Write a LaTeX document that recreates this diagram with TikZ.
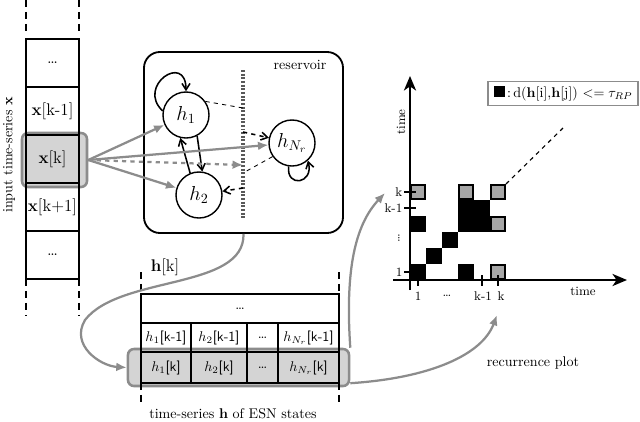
\documentclass[tikz,border=0pt]{standalone}
\usepackage{xcolor}
\definecolor{lineGray}{HTML}{8C8C8C}
\definecolor{cellGray}{HTML}{D4D4D4}
\definecolor{markGray}{HTML}{A6A6A6}
\usepackage{tikz}
\usetikzlibrary{arrows.meta,positioning,shapes.misc}
\tikzset{%
  seriesCell/.style={%
    rectangle,
    draw,
    line width=1.3pt,
    minimum width=1.325cm,
    minimum height=1.2cm,
    inner sep=0pt,
    outer sep=0pt,
    font=\large
  },
  stateCell/.style={%
    rectangle,
    draw,
    line width=1.3pt,
    minimum height=0.725cm,
    inner sep=0pt,
    outer sep=0pt
  },
  stateNode/.style={%
    circle,
    draw,
    line width=1pt,
    fill=white,
    minimum size=1.15cm,
    inner sep=0pt,
    font=\Large
  },
  grayBox/.style={%
    rectangle,
    rounded corners=0.15cm,
    draw=lineGray,
    line width=1.8pt,
    fill=cellGray,
    inner sep=0pt
  },
  grayArrow/.style={%
    -{Latex[length=2.6mm,width=2.2mm]},
    line width=1.6pt,
    color=lineGray
  },
  blackArrow/.style={%
    -{Straight Barb[length=1.6mm,width=2mm]},
    line width=1.1pt
  },
  axisArrow/.style={%
    -{Stealth[length=3.6mm,width=3mm,inset=1mm]},
    line width=1.8pt
  },
  edgeDash/.style={%
    line width=1pt,
    dash pattern=on 5pt off 3.5pt
  }
}

\begin{document}
\begin{tikzpicture}[x=0.025cm,y=-0.025cm]
  \useasboundingbox (0,0) rectangle (640,422);

  % input time-series
  \node[grayBox, minimum width=1.625cm, minimum height=1.35cm] (xkbox) at (54.5,160) {};
  \node[seriesCell] (xa) at (52.5,63) {\dots};
  \node[seriesCell, below=0pt of xa] (xb) {$\mathbf{x}$[k-1]};
  \node[seriesCell, fill=cellGray, below=0pt of xb] (xc) {$\mathbf{x}$[k]};
  \node[seriesCell, below=0pt of xc] (xd) {$\mathbf{x}$[k+1]};
  \node[seriesCell, below=0pt of xd] (xe) {\dots};
  \foreach \px in {26,79} {
    \draw[edgeDash] (\px,0) -- (\px,33);
    \draw[edgeDash] (\px,279) -- (\px,316);
  }
  \node[rotate=90] (xlabel) at (9,155) {input time-series $\mathbf{x}$};

  % reservoir
  \node[rectangle, draw, line width=1.3pt, rounded corners=0.4cm,
        minimum width=4.975cm, minimum height=4.525cm] (res) at (243.5,142.5) {};
  \node (reslabel) at (300,65) {reservoir};
  \draw[line width=2.2pt, black!65, dash pattern=on 1.4pt off 1.2pt] (243,70) -- (243,218);
  \coordinate (d1) at (243,108);
  \coordinate (d2) at (243,132);
  \coordinate (d3) at (243,173);
  \coordinate (d4) at (243,188);
  \coordinate (d5) at (243,165);

  \node[stateNode] (h1) at (186,115) {$h_1$};
  \node[stateNode] (h2) at (199,195) {$h_2$};
  \node[stateNode] (hN) at (292,143) {$h_{N_r}$};

  \draw[blackArrow] (h1.170) .. controls (136,86) and (186,52) .. (h1.north);
  \draw[blackArrow] (hN.262) .. controls (286,188) and (314,184) .. (hN.-48);
  \draw[blackArrow] (h1.-62) -- (h2.82);
  \draw[blackArrow] (h2.112) -- (h1.-104);
  \draw[dashed, line width=0.6pt] (h1.35) -- (d1);
  \draw[dashed, line width=0.6pt] (hN.215) -- (d3);
  \draw[blackArrow, dashed] (d2) -- (hN);
  \draw[blackArrow, dashed] (d4) -- (h2);

  \draw[grayArrow] (xkbox.east) -- (h1);
  \draw[grayArrow] (xkbox.east) -- (hN);
  \draw[grayArrow] (xkbox.east) -- (h2);
  \draw[grayArrow, dashed] (xkbox.east) -- (d5);

  % time-series of states
  \node[grayBox, minimum width=5.525cm, minimum height=0.925cm] (hkbox) at (238.5,367.5) {};
  \node[stateCell, minimum width=4.95cm] (ha) at (240,308.5) {\dots};
  \node[stateCell, minimum width=1.25cm, anchor=north west] (hb1) at (ha.south west) {$h_1$\textsf{[k-1]}};
  \node[stateCell, minimum width=1.4cm, right=0pt of hb1] (hb2) {$h_2$\textsf{[k-1]}};
  \node[stateCell, minimum width=0.775cm, right=0pt of hb2] (hb3) {\dots};
  \node[stateCell, minimum width=1.525cm, right=0pt of hb3] (hb4) {$h_{N_r}$\textsf{[k-1]}};
  \node[stateCell, fill=cellGray, minimum width=1.25cm, minimum height=0.775cm, anchor=north west] (hc1) at (hb1.south west) {$h_1$\textsf{[k]}};
  \node[stateCell, fill=cellGray, minimum width=1.4cm, minimum height=0.775cm, right=0pt of hc1] (hc2) {$h_2$\textsf{[k]}};
  \node[stateCell, fill=cellGray, minimum width=0.775cm, minimum height=0.775cm, right=0pt of hc2] (hc3) {\dots};
  \node[stateCell, fill=cellGray, minimum width=1.525cm, minimum height=0.775cm, right=0pt of hc3] (hc4) {$h_{N_r}$\textsf{[k]}};
  \foreach \px in {141,339} {
    \draw[edgeDash] (\px,272) -- (\px,294);
    \draw[edgeDash] (\px,383) -- (\px,404);
  }
  \node[font=\large] (hklabel) at (165,267) {$\mathbf{h}$[k]};
  \node (hlabel) at (233,414) {time-series $\mathbf{h}$ of ESN states};

  \draw[grayArrow] (res.south) .. controls (245,290) and (120,275) .. (85,320)
    .. controls (70,345) and (100,366) .. (hkbox.west);

  % recurrence plot
  \foreach \c/\r in {0/0,1/1,2/2,3/3,3/4,4/3,4/4,0/3,3/0}
    \fill (410+16*\c,264-16*\r) rectangle ++(16,16);
  \foreach \c/\r in {0/5,3/5,5/5,5/3,5/0}
    \draw[fill=markGray, line width=1.3pt] (410.8+16*\c,264.8-16*\r) rectangle ++(14.4,14.4);
  \draw[axisArrow] (410,290) -- (410,76);
  \draw[axisArrow] (393,280) -- (627,280);
  \foreach \py/\t [count=\i] in {192/k,208/k-1,272/1} {
    \draw[line width=1pt] (404,\py) -- (416,\py);
    \node[font=\small, left, inner sep=1pt] (yt\i) at (404,\py) {\t};
  }
  \node[font=\small, rotate=90, inner sep=0pt] (ydots) at (399,238) {\dots};
  \foreach \px in {418,482,498} {
    \draw[line width=1pt] (\px,275) -- (\px,286);
  }
  \node[font=\small] (xt1) at (418,296) {1};
  \node[font=\small] (xt2) at (447,296) {\dots};
  \node[font=\small] (xt3) at (483,296) {k-1};
  \node[font=\small] (xt4) at (501,296) {k};
  \node[font=\small, rotate=90] (ytime) at (401,122) {time};
  \node[font=\small] (xtime) at (583,291) {time};
  \coordinate (diagEnd) at (506,184);
  \coordinate (diagFar) at (563,128);
  \draw[dashed, line width=0.8pt] (diagEnd) -- (diagFar);
  \node[rectangle, draw=lineGray, line width=1pt, minimum width=3.75cm, minimum height=0.575cm] (legend) at (563,93.5)
    {\rule{8pt}{8pt}\,:\,d($\mathbf{h}$[i],$\mathbf{h}$[j]) $<=\tau_{RP}$};
  \node (rplabel) at (533,363) {recurrence plot};

  \coordinate (rpY) at (385,193);
  \coordinate (rpX) at (497,315);
  \draw[grayArrow] (hkbox.north east) .. controls (345,270) and (355,225) .. (rpY);
  \draw[grayArrow] (hkbox.-8) .. controls (430,378) and (482,355) .. (rpX);
\end{tikzpicture}
\end{document}
